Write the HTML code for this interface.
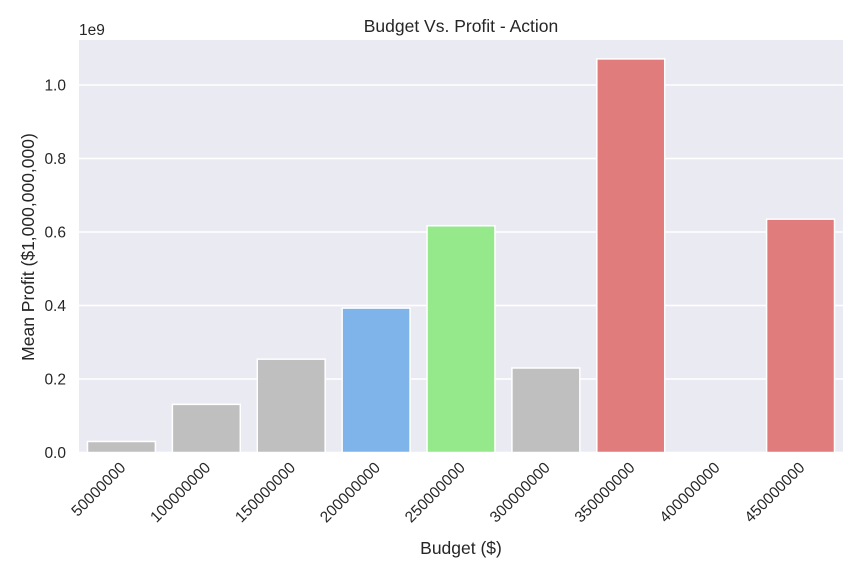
<!DOCTYPE html>
<html><head><meta charset="utf-8"><style>
body{margin:0;background:#fff;font-family:"Liberation Sans",Arial,sans-serif}
</style></head><body>
<svg id="chart" width="864" height="576" xmlns="http://www.w3.org/2000/svg" font-family="Liberation Sans, Arial, sans-serif">
<rect x="79" y="40" width="764" height="412.5" fill="#eaeaf2"/>
<g id="grid"></g><g id="bars"></g><g id="yticks"></g><g id="xticks"></g>
<text x="461" y="32" text-anchor="middle" font-size="17.5" fill="#262626">Budget Vs. Profit - Action</text>
<text x="79" y="35" font-size="15.5" fill="#262626">1e9</text>
<text x="461" y="554" text-anchor="middle" font-size="17.5" fill="#262626">Budget ($)</text>
<text transform="translate(34,247) rotate(-90)" text-anchor="middle" font-size="17.5" fill="#262626">Mean Profit ($1,000,000,000)</text>
</svg>
<script>
const categories=["50000000","100000000","150000000","200000000","250000000","300000000","350000000","400000000","450000000"];
const values=[0.030,0.131,0.254,0.393,0.617,0.230,1.071,0,0.635];
const colors=["#bfbfbf","#bfbfbf","#bfbfbf","#7eb4ea","#95e98b","#bfbfbf","#e07d7c","#bfbfbf","#e07d7c"];
const yTicks=[0,0.2,0.4,0.6,0.8,1.0];
const yTickLabels=["0.0","0.2","0.4","0.6","0.8","1.0"];
const NS="http://www.w3.org/2000/svg";
const L=79,R=843,B=452.5,S=367.5;
const bw=(R-L)/categories.length;
const y=v=>B-v*S, x=i=>L+bw*(i+0.5);
function mk(t,a,p){const e=document.createElementNS(NS,t);for(const k in a)e.setAttribute(k,a[k]);document.getElementById(p).appendChild(e);return e;}
yTicks.forEach((v,i)=>{
 const g=mk('line',{x1:L,x2:R,y1:y(v),y2:y(v),stroke:'#fff','stroke-width':1.5},'grid');
 
 
 const t=mk('text',{x:L-13,y:y(v)+5.5,'text-anchor':'end','font-size':15.5,fill:'#262626'},'yticks');
 t.textContent=yTickLabels[i];
 
 
});
categories.forEach((c,i)=>{
 const w=bw*0.8, h=values[i]*S;
 const r=mk('rect',{x:x(i)-w/2,y:y(values[i]),width:w,height:h,fill:colors[i],stroke:'#fff','stroke-width':1.5},'bars');
 
 
 const t=mk('text',{transform:`translate(${x(i)+5},${B+16}) rotate(-45)`,'text-anchor':'end','font-size':15.5,fill:'#262626'},'xticks');
 t.textContent=c;
 
 
});
</script>
</body></html>
